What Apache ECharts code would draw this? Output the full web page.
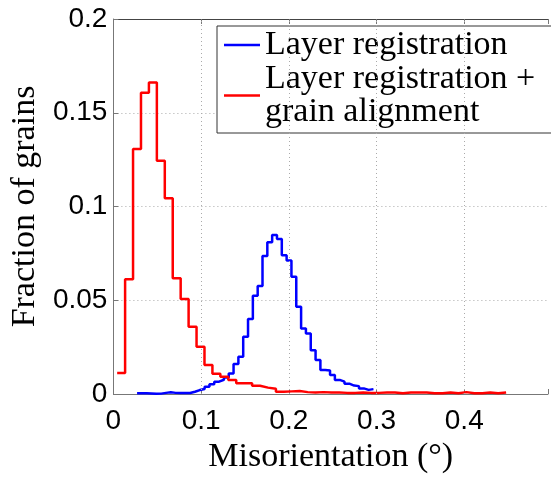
<!DOCTYPE html>
<html>
<head>
<meta charset="utf-8">
<script src="https://cdn.jsdelivr.net/npm/echarts@6/dist/echarts.min.js"></script>
<style>html,body{margin:0;padding:0;background:#fff}#c{width:551px;height:479px}</style>
</head>
<body>
<div id="c"></div>
<script>
// Histogram bins (left edge of first bin and bin width, in degrees)
const blueBinStart = 0.027;
const blueBinWidth = 0.0055;
const blueValues = [0.0004, 0.0004, 0.0003, 0.0001, 0.0002, 0.0006, 0.0009, 0.0006, 0.0005, 0.0006,
  0.0005, 0.0012, 0.0021, 0.0027, 0.0039, 0.0052, 0.0066, 0.0076, 0.0088, 0.011,
  0.016, 0.0199, 0.0306, 0.040, 0.0524, 0.0576, 0.0736, 0.0809, 0.0848, 0.0827,
  0.0740, 0.0712, 0.0626, 0.0466, 0.035, 0.0323, 0.0234, 0.0181, 0.0128, 0.0125,
  0.0101, 0.0075, 0.0066, 0.0055, 0.0045, 0.0042, 0.0030, 0.0022, 0.0026];

const redBinStart = 0.0043;
const redBinWidth = 0.00905;
const redValues = [0.0112, 0.0612, 0.1307, 0.1607, 0.1662, 0.1244, 0.1044, 0.0617, 0.0507, 0.0359,
  0.0252, 0.0155, 0.0108, 0.0092, 0.0075, 0.0057, 0.0057, 0.0044, 0.0034, 0.0028,
  0.0012, 0.0014, 0.0016, 0.001, 0.0008, 0.001, 0.0008, 0.0008, 0.0006, 0.0006,
  0.0008, 0.0006, 0.0006, 0.0008, 0.0008, 0.0004, 0.0008, 0.0008, 0.0008, 0.0004,
  0.0004, 0.0008, 0.0004, 0.001, 0.0004, 0.0004, 0.0008, 0.0004, 0.0008];

const xTicks = [0, 0.1, 0.2, 0.3, 0.4];
const yTicks = [0, 0.05, 0.1, 0.15, 0.2];
const seriesNames = ['Layer registration', 'Layer registration +\ngrain alignment'];
const xTitle = 'Misorientation (°)';
const yTitle = 'Fraction of grains';

function stairs(start, width, vals) {
  const pts = vals.map((v, i) => [start + i * width, v]);
  pts.push([start + vals.length * width, vals[vals.length - 1]]);
  return pts;
}

const chart = echarts.init(document.getElementById('c'), null, {renderer: 'canvas'});
const tickFont = {fontFamily: '"Liberation Sans", Arial, sans-serif', fontSize: 28, color: '#000'};
const serif = '"Liberation Serif", "Times New Roman", serif';
const axisGray = '#777';
const gridDot = {color: '#aaa', type: [1, 3], width: 1};
const isTick = (ticks, v) => ticks.some(t => Math.abs(t - v) < 1e-9);
chart.setOption({
  animation: false,
  backgroundColor: '#fff',
  grid: {left: 110, top: 19, right: 0, height: 375, show: false},
  legend: {
    left: 217, top: 26, orient: 'vertical', itemGap: 0, itemWidth: 36, itemHeight: 2.5,
    icon: 'rect',
    padding: [2, 20, 4, 7],
    backgroundColor: '#fff', borderColor: '#333', borderWidth: 1,
    textStyle: {fontFamily: serif, fontSize: 34, color: '#000', lineHeight: 33},
    data: seriesNames
  },
  xAxis: [{
    type: 'value', min: 0, max: 0.4955, interval: 0.1,
    name: xTitle, nameLocation: 'middle', nameGap: 43,
    nameTextStyle: {fontFamily: serif, fontSize: 34, color: '#000'},
    axisLine: {show: true, onZero: false, lineStyle: {color: axisGray, width: 1}},
    axisTick: {show: true, inside: true, length: 5, lineStyle: {color: axisGray}},
    axisLabel: Object.assign({margin: 13, formatter: v => isTick(xTicks, v) ? String(+v.toFixed(2)) : ''}, tickFont),
    splitLine: {show: false}
  }, {
    type: 'value', position: 'top', min: 0, max: 0.4955, interval: 0.1,
    axisLine: {show: true, onZero: false, lineStyle: {color: '#444', width: 1}},
    axisTick: {show: true, inside: true, length: 5, lineStyle: {color: axisGray}},
    axisLabel: {show: false},
    splitLine: {show: false}
  }],
  yAxis: {
    type: 'value', min: 0, max: 0.2, interval: 0.05,
    name: yTitle, nameLocation: 'middle', nameGap: 66, nameRotate: 90,
    nameTextStyle: {fontFamily: serif, fontSize: 34, color: '#000'},
    axisLine: {show: true, onZero: false, lineStyle: {color: axisGray, width: 1}},
    axisTick: {show: true, inside: true, length: 5, lineStyle: {color: axisGray}},
    axisLabel: Object.assign({margin: 6, padding: [7, 0, 0, 0], formatter: v => isTick(yTicks, v) ? String(+v.toFixed(2)) : ''}, tickFont),
    splitLine: {show: true, lineStyle: gridDot}
  },
  series: [
    {type: 'line', data: [], z: 1, silent: true,
      markLine: {silent: true, symbol: 'none', label: {show: false}, lineStyle: gridDot,
        data: xTicks.filter(t => t > 0).map(t => ({xAxis: t}))}},
    {name: seriesNames[0], type: 'line', step: 'end', symbol: 'none', z: 3, data: stairs(blueBinStart, blueBinWidth, blueValues),
      lineStyle: {color: '#0000ff', width: 2.5}, itemStyle: {color: '#0000ff'}},
    {name: seriesNames[1], type: 'line', step: 'end', symbol: 'none', z: 4, data: stairs(redBinStart, redBinWidth, redValues),
      lineStyle: {color: '#ff0000', width: 2.5}, itemStyle: {color: '#ff0000'}}
  ]
});
</script>
</body>
</html>
